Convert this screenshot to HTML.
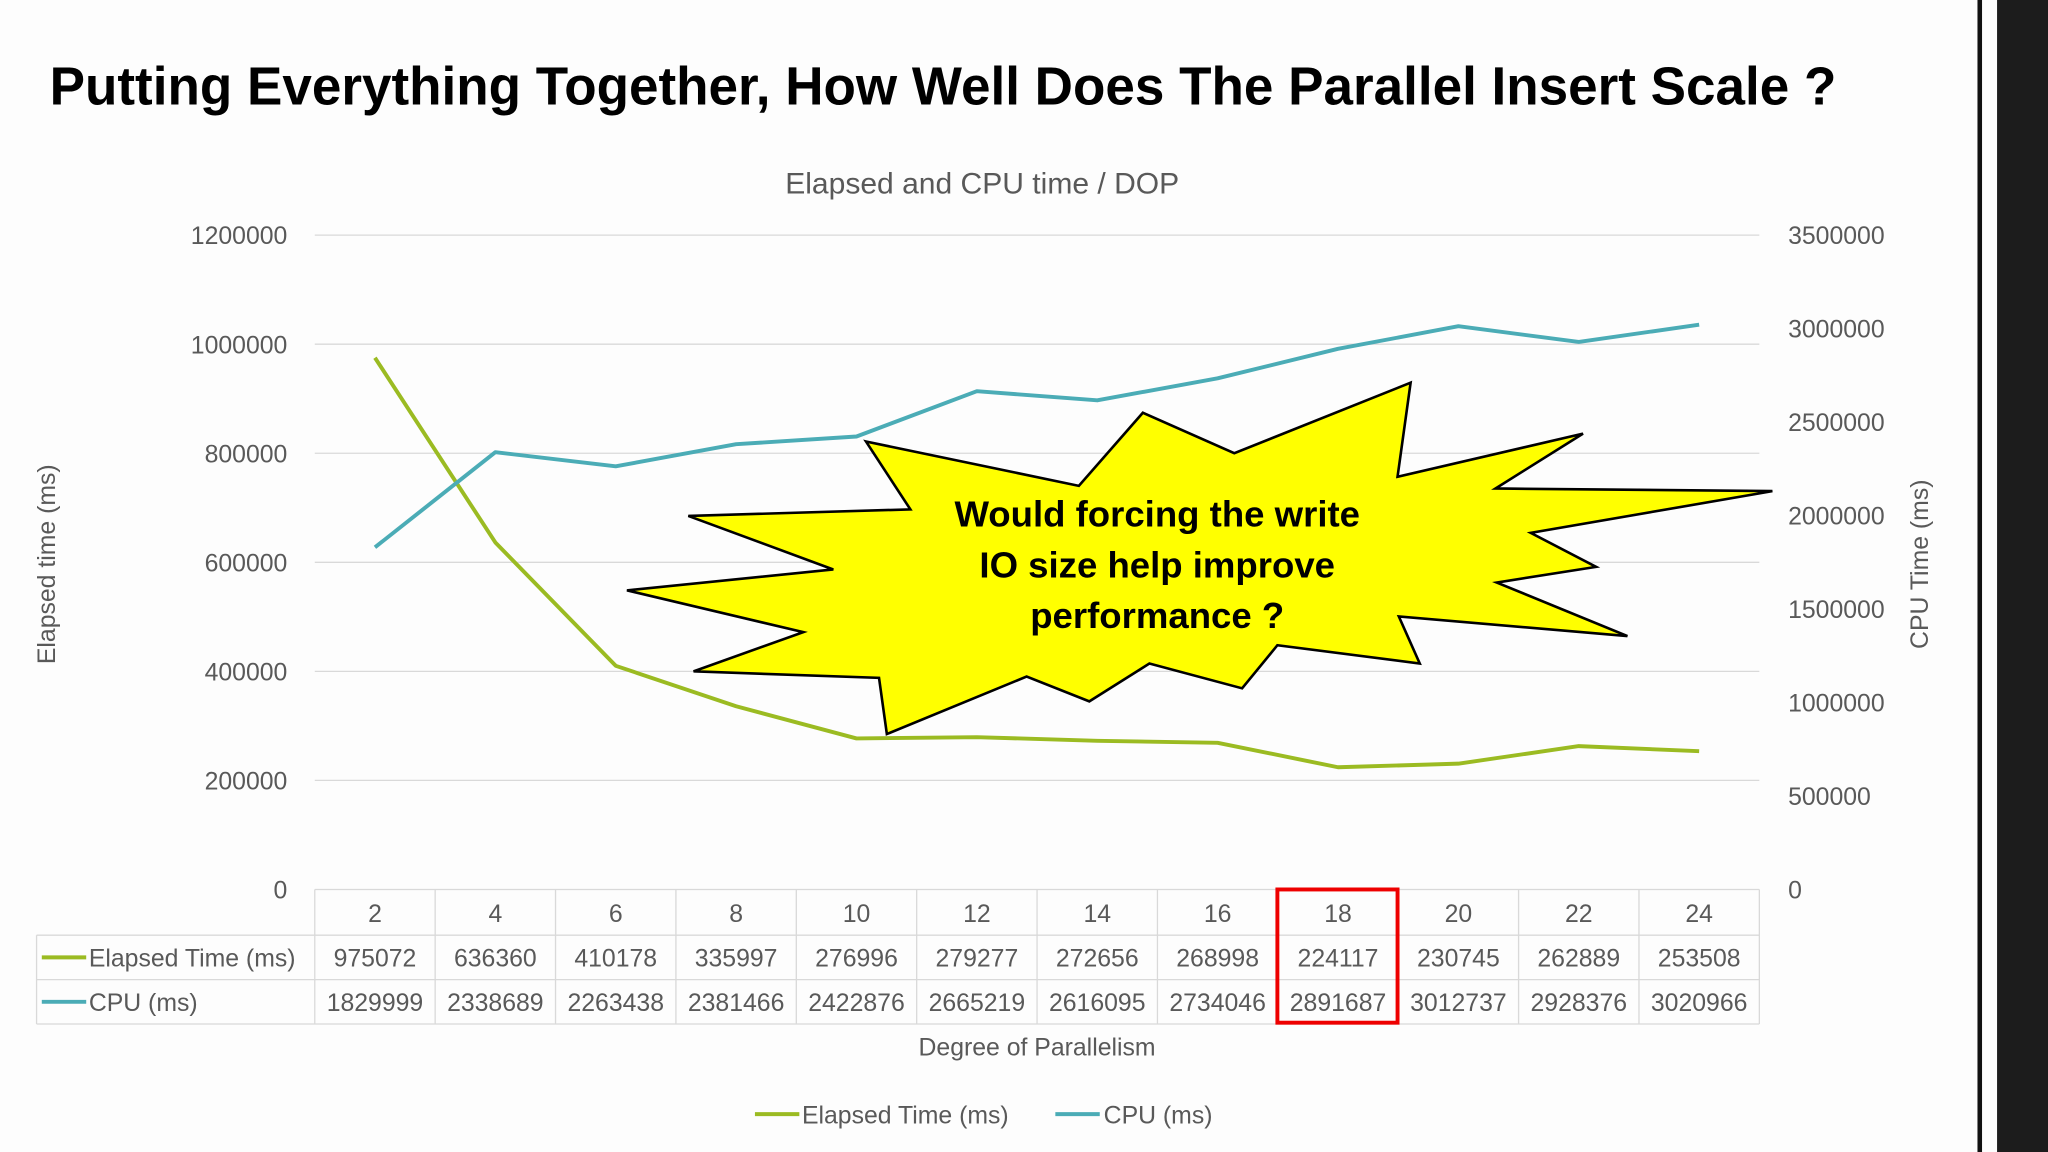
<!DOCTYPE html>
<html><head><meta charset="utf-8"><style>
html,body{margin:0;padding:0;background:#fff;}
svg{display:block;}
text{font-family:"Liberation Sans",sans-serif;}
</style></head><body>
<svg id="c" width="2048" height="1152" viewBox="0 0 1568 882" xmlns="http://www.w3.org/2000/svg">
<rect x="0" y="0" width="1568" height="882" fill="#fdfdfd"/>
<rect x="1514" y="0" width="3.5" height="882" fill="#111"/>
<rect x="1529" y="0" width="39" height="882" fill="#1c1c1c"/>
<text x="38" y="80" font-size="41" font-weight="bold" fill="#000" textLength="1368" lengthAdjust="spacingAndGlyphs">Putting Everything Together, How Well Does The Parallel Insert Scale ?</text>
<text x="752" y="148" font-size="23" fill="#595959" text-anchor="middle">Elapsed and CPU time / DOP</text>
<text transform="translate(42,432) rotate(-90)" font-size="19" fill="#595959" text-anchor="middle">Elapsed time (ms)</text>
<text transform="translate(1476,432) rotate(-90)" font-size="19" fill="#595959" text-anchor="middle">CPU Time (ms)</text>
<text x="794" y="808" font-size="19" fill="#595959" text-anchor="middle">Degree of Parallelism</text>
<g id="grid"></g><g id="table"></g><g id="lines"></g>
<g>
<polygon fill="#ffff00" stroke="#000" stroke-width="2" points="663,338 826,372 875,316 945,347 1080,293 1070,365 1212,332 1145,374 1357,376 1172,408 1222,434 1146,446 1246,487 1071,472 1087,508 978,494 951,527 880,508 834,537 786,518 679,562 673,519 531,514 615,484 480,452 638,436 527,395 697,390"/>
<text x="886" y="403" font-size="28" font-weight="bold" text-anchor="middle" fill="#000">Would forcing the write</text>
<text x="886" y="442" font-size="28" font-weight="bold" text-anchor="middle" fill="#000">IO size help improve</text>
<text x="886" y="481" font-size="28" font-weight="bold" text-anchor="middle" fill="#000">performance ?</text>
</g>
<rect x="978" y="681" width="92" height="102" fill="none" stroke="#e00" stroke-width="3"/>
<g>
<line x1="578" y1="853" x2="612" y2="853" stroke="#9bbb22" stroke-width="3"/>
<text x="614" y="860" font-size="19" fill="#595959">Elapsed Time (ms)</text>
<line x1="808" y1="853" x2="842" y2="853" stroke="#4bacb6" stroke-width="3"/>
<text x="845" y="860" font-size="19" fill="#595959">CPU (ms)</text>
</g>
</svg>
<script>
const categories=[2,4,6,8,10,12,14,16,18,20,22,24];
const elapsed=[975072,636360,410178,335997,276996,279277,272656,268998,224117,230745,262889,253508];
const cpu=[1829999,2338689,2263438,2381466,2422876,2665219,2616095,2734046,2891687,3012737,2928376,3020966];
const leftTicks=[0,200000,400000,600000,800000,1000000,1200000];
const rightTicks=[0,500000,1000000,1500000,2000000,2500000,3000000,3500000];
const NS="http://www.w3.org/2000/svg";
const X0=241,X1=1347,Y0=681,Y1=180;
const bw=(X1-X0)/categories.length;
const xs=i=>X0+bw*(i+0.5);
const yL=v=>Y0-(v/1200000)*(Y0-Y1);
const yR=v=>Y0-(v/3500000)*(Y0-Y1);
function mk(tag,attrs,parent,txt){const e=document.createElementNS(NS,tag);for(const k in attrs)e.setAttribute(k,attrs[k]);if(txt!==undefined)e.textContent=txt;parent.appendChild(e);return e;}
const grid=document.getElementById('grid'),table=document.getElementById('table'),lines=document.getElementById('lines');
leftTicks.forEach(v=>{
 if(v>0){const l=mk('line',{x1:X0,x2:X1,y1:yL(v),y2:yL(v),stroke:'#d9d9d9','stroke-width':1},grid);
 
 }
 const t=mk('text',{x:220,y:yL(v)+7,'font-size':19,fill:'#595959','text-anchor':'end'},grid,String(v));
 
 
});
rightTicks.forEach(v=>{
 const t=mk('text',{x:1369,y:yR(v)+7,'font-size':19,fill:'#595959'},grid,String(v));
 
 
});
const tl=(x1,y1,x2,y2)=>{const l=mk('line',{x1,y1,x2,y2,stroke:'#d9d9d9','stroke-width':1},table);
 
 };
tl(X0,681,X1,681);tl(28,716,X1,716);tl(28,750,X1,750);tl(28,784,X1,784);
tl(28,716,28,784);
for(let i=0;i<=categories.length;i++)tl(X0+bw*i,681,X0+bw*i,784);
categories.forEach((c,i)=>{
 const t=mk('text',{x:xs(i),y:706,'font-size':19,fill:'#595959','text-anchor':'middle'},table,String(c));
 
 
 const a=mk('text',{x:xs(i),y:740,'font-size':19,fill:'#595959','text-anchor':'middle'},table,String(elapsed[i]));
 
 
 const b=mk('text',{x:xs(i),y:774,'font-size':19,fill:'#595959','text-anchor':'middle'},table,String(cpu[i]));
 
 
});
[['Elapsed Time (ms)',740,'#9bbb22','table-elapsed-label'],['CPU (ms)',774,'#4bacb6','table-cpu-label']].forEach(r=>{
 const s=mk('line',{x1:32,x2:66,y1:r[1]-7,y2:r[1]-7,stroke:r[2],'stroke-width':3},table);
 
 
 const t=mk('text',{x:68,y:r[1],'font-size':19,fill:'#595959'},table,r[0]);
 
 
});
const pe=mk('polyline',{points:elapsed.map((v,i)=>xs(i)+','+yL(v)).join(' '),fill:'none',stroke:'#9bbb22','stroke-width':3,'stroke-linejoin':'round'},lines);


const pc=mk('polyline',{points:cpu.map((v,i)=>xs(i)+','+yR(v)).join(' '),fill:'none',stroke:'#4bacb6','stroke-width':3,'stroke-linejoin':'round'},lines);


</script>
</body></html>
